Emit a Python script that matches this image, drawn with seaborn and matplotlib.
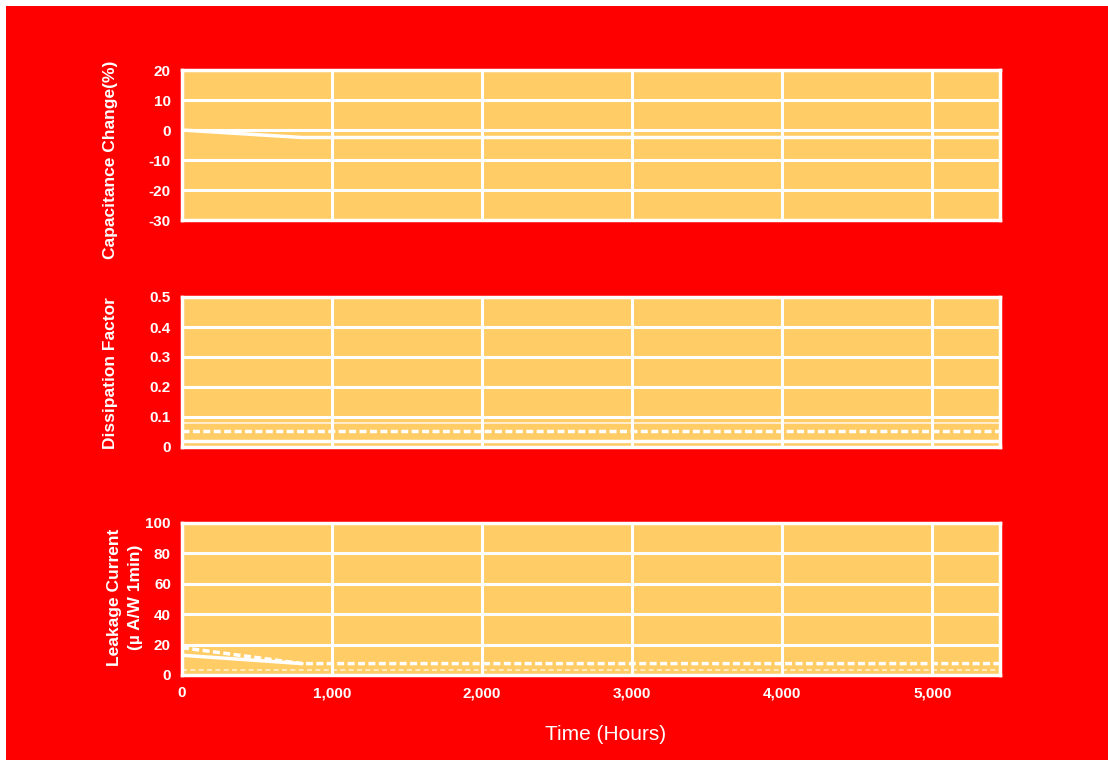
import matplotlib
matplotlib.use("Agg")
import matplotlib.pyplot as plt
from matplotlib.patches import Rectangle
from matplotlib.ticker import FuncFormatter, MultipleLocator
import seaborn as sns

# ─── data ───
x_ticks = [0, 1000, 2000, 3000, 4000, 5000]
x_max = 5450

cap_hours = [0, 800, 5450]
cap_change = [0, -2.5, -2.5]

df_hours = [0, 5450]
df_limit = [0.08, 0.08]
df_max = [0.055, 0.055]
df_avg = [0.02, 0.02]

leak_hours = [0, 800, 5450]
leak_max = [18, 7.5, 7.5]
leak_avg_hours = [0, 800]
leak_avg = [13, 7.5]
leak_min_hours = [0, 5450]
leak_min = [3, 3]

RED = "#ff0000"
FACE = "#ffcc66"
WHITE = "#ffffff"

sns.set_style("whitegrid", {"axes.facecolor": FACE, "grid.color": WHITE,
                            "axes.edgecolor": WHITE})
plt.rcParams["font.family"] = ["Liberation Sans", "DejaVu Sans"]
plt.rcParams["axes.unicode_minus"] = False

fig = plt.figure(figsize=(11.08, 7.6), dpi=100)
fig.patch.set_facecolor(WHITE)
fig.add_artist(Rectangle((6 / 1108, 0), 1, 1 - 6 / 760, transform=fig.transFigure,
                         facecolor=RED, edgecolor="none", zorder=-10))

left, width = 182 / 1108, 818 / 1108
ax1 = fig.add_axes([left, 1 - 220 / 760, width, 150 / 760])
ax2 = fig.add_axes([left, 1 - 447 / 760, width, 150 / 760])
ax3 = fig.add_axes([left, 1 - 675 / 760, width, 152 / 760])

# capacitance change
sns.lineplot(x=cap_hours, y=cap_change, ax=ax1, color=WHITE, lw=2.5)
ax1.set_ylim(-30, 20)
ax1.yaxis.set_major_locator(MultipleLocator(10))

# dissipation factor
sns.lineplot(x=df_hours, y=df_limit, ax=ax2, color=WHITE, lw=1.2, alpha=0.8)
sns.lineplot(x=df_hours, y=df_max, ax=ax2, color=WHITE, lw=2.5,
             linestyle=(0, (2, 1)))
sns.lineplot(x=df_hours, y=df_avg, ax=ax2, color=WHITE, lw=2.5)
ax2.set_ylim(0, 0.5)
ax2.yaxis.set_major_locator(MultipleLocator(0.1))
ax2.yaxis.set_major_formatter(FuncFormatter(lambda v, p: "0" if abs(v) < 1e-9 else f"{v:.1f}"))

# leakage current
sns.lineplot(x=leak_hours, y=leak_max, ax=ax3, color=WHITE, lw=2.5,
             linestyle=(0, (2, 1)))
sns.lineplot(x=leak_avg_hours, y=leak_avg, ax=ax3, color=WHITE, lw=2.5)
sns.lineplot(x=leak_min_hours, y=leak_min, ax=ax3, color=WHITE, lw=1.2, alpha=0.7,
             linestyle=(0, (3, 2)))
ax3.set_ylim(0, 100)
ax3.yaxis.set_major_locator(MultipleLocator(20))
ax3.xaxis.set_major_formatter(FuncFormatter(lambda v, p: f"{int(v):,}"))

for ax in (ax1, ax2, ax3):
    ax.set_xlim(0, x_max)
    ax.set_xticks(x_ticks)
    ax.grid(True, color=WHITE, lw=2.2)
    ax.set_axisbelow(True)
    for s in ax.spines.values():
        s.set_color(WHITE)
        s.set_linewidth(2.5)
    ax.tick_params(length=0, pad=8, colors=WHITE, labelsize=11)
    for lab in ax.get_yticklabels() + ax.get_xticklabels():
        lab.set_fontweight("bold")
    ax.set_xlabel("")
    ax.set_ylabel("")

ax1.tick_params(labelbottom=False)
ax2.tick_params(labelbottom=False)

fig.text(110 / 1108, 1 - 160 / 760, "Capacitance Change(%)", rotation=90, ha="center",
         va="center", color=WHITE, fontsize=12.5, fontweight="bold")
fig.text(110 / 1108, 1 - 373 / 760, "Dissipation Factor", rotation=90, ha="center",
         va="center", color=WHITE, fontsize=12.5, fontweight="bold")
fig.text(125 / 1108, 1 - 597 / 760, "Leakage Current\n(µ A/W 1min)", rotation=90,
         ha="center", va="center", color=WHITE, fontsize=12.5, fontweight="bold",
         linespacing=1.45)
fig.text(606 / 1108, 1 - 735 / 760, "Time (Hours)", ha="center", va="center",
         color=WHITE, fontsize=15)

fig.savefig("out.png", dpi=100)
